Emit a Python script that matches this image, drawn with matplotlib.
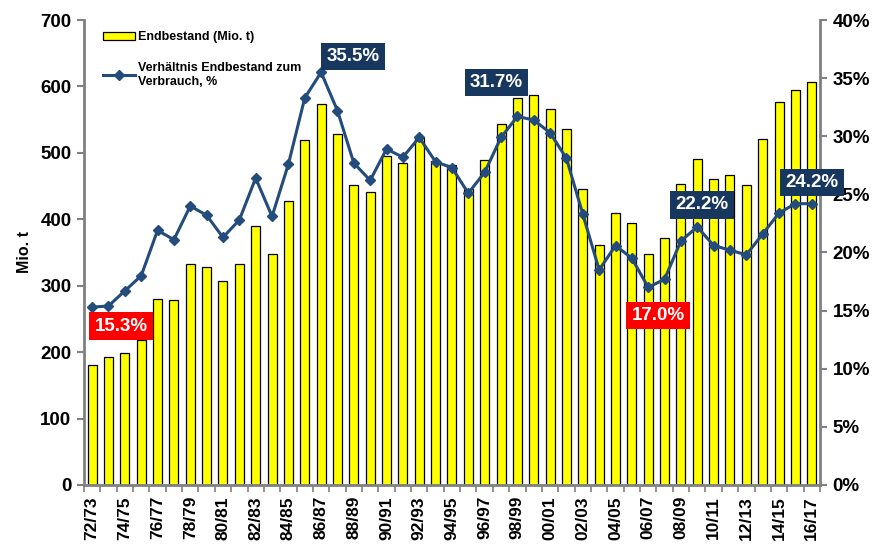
import numpy as np
import matplotlib.pyplot as plt
from matplotlib.lines import Line2D
from matplotlib.patches import Patch

plt.rcParams['font.family'] = ['Liberation Sans', 'DejaVu Sans']
plt.rcParams['font.weight'] = 'bold'

# Saisons 72/73 .. 16/17
seasons = ['%02d/%02d' % (y % 100, (y + 1) % 100) for y in range(1972, 2017)]
endbestand = [181, 192, 199, 219, 280, 278, 333, 328, 307, 332,
              390, 348, 428, 519, 573, 528, 452, 441, 495, 485,
              522, 487, 481, 445, 489, 544, 583, 587, 566, 536,
              445, 361, 410, 395, 348, 372, 453, 490, 460, 467,
              451, 521, 576, 594, 606]
verhaeltnis = [15.3, 15.4, 16.7, 18.0, 21.9, 21.1, 24.0, 23.2, 21.3, 22.8,
               26.4, 23.1, 27.6, 33.3, 35.5, 32.2, 27.7, 26.2, 28.9, 28.2,
               29.9, 27.8, 27.3, 25.1, 26.9, 29.9, 31.7, 31.4, 30.3, 28.1,
               23.3, 18.5, 20.6, 19.5, 17.0, 17.7, 21.0, 22.2, 20.6, 20.2,
               19.8, 21.6, 23.4, 24.2, 24.2]

# markierte Werte: (Index, Farbe, Versatz in Pixel)
callouts = [(0, '#FF0000', (29, -19)),
            (14, '#17375E', (32, 16)),
            (26, '#17375E', (-21, 34)),
            (34, '#FF0000', (10, -28)),
            (37, '#17375E', (5, 22)),
            (44, '#17375E', (0, 21))]

grey = '#808080'
navy = '#234B7C'

fig = plt.figure(figsize=(8.81, 5.51), dpi=100)
ax = fig.add_axes([0.0953, 0.1198, 0.8354, 0.8439])
ax2 = ax.twinx()

x = np.arange(len(seasons))
ax.bar(x, endbestand, width=0.55, color='#FFFF00', edgecolor='black',
       linewidth=0.9, zorder=2)
ax2.plot(x, verhaeltnis, color=navy, lw=2.2, marker='D', ms=5.5,
         zorder=3)

ax.set_xlim(-0.5, len(seasons) - 0.5)
ax.set_ylim(0, 700)
ax2.set_ylim(0, 40)
ax.set_yticks(range(0, 701, 100))
ax2.set_yticks(range(0, 41, 5))
ax2.set_yticklabels(['%d%%' % v for v in range(0, 41, 5)])

ax.set_xticks(x[::2])
ax.set_xticklabels(seasons[::2], rotation=90, fontsize=12.5)
ax.set_xticks(np.arange(-0.5, len(seasons)), minor=True)
ax.tick_params(axis='x', which='major', length=0, pad=8)
ax.tick_params(axis='x', which='minor', length=5, width=1.2, color=grey,
               direction='out')
ax.tick_params(axis='y', labelsize=13.5, length=5, width=1.5, color=grey,
               direction='out', pad=4)
ax2.tick_params(axis='y', labelsize=13.5, length=5, width=1.5, color=grey,
                direction='out', pad=4)
ax.set_ylabel('Mio. t', fontsize=11.5, fontweight='bold', labelpad=6)

for a in (ax, ax2):
    a.spines['top'].set_visible(False)
    for s in ('left', 'right', 'bottom'):
        a.spines[s].set_color(grey)
        a.spines[s].set_linewidth(2)
ax.spines['right'].set_visible(False)
ax2.spines['left'].set_visible(False)
ax2.spines['bottom'].set_visible(False)

for i, col, off in callouts:
    ax2.annotate('%.1f%%' % verhaeltnis[i], xy=(x[i], verhaeltnis[i]),
                 xytext=off, textcoords='offset pixels', ha='center',
                 va='center', color='white', fontsize=13.5, weight='bold',
                 bbox=dict(boxstyle='square,pad=0.28', fc=col, ec='none'),
                 zorder=5)

handles = [Patch(facecolor='#FFFF00', edgecolor='black', linewidth=0.9),
           Line2D([], [], color=navy, lw=2.2, marker='D', ms=5)]
labels = ['Endbestand (Mio. t)', 'Verhältnis Endbestand zum\nVerbrauch, %']
ax2.legend(handles, labels, loc='upper left', bbox_to_anchor=(0.01, 1.0),
           frameon=False, fontsize=9, handlelength=2.6, labelspacing=1.5,
           handletextpad=0.2)

fig.savefig('out.png', dpi=100)
